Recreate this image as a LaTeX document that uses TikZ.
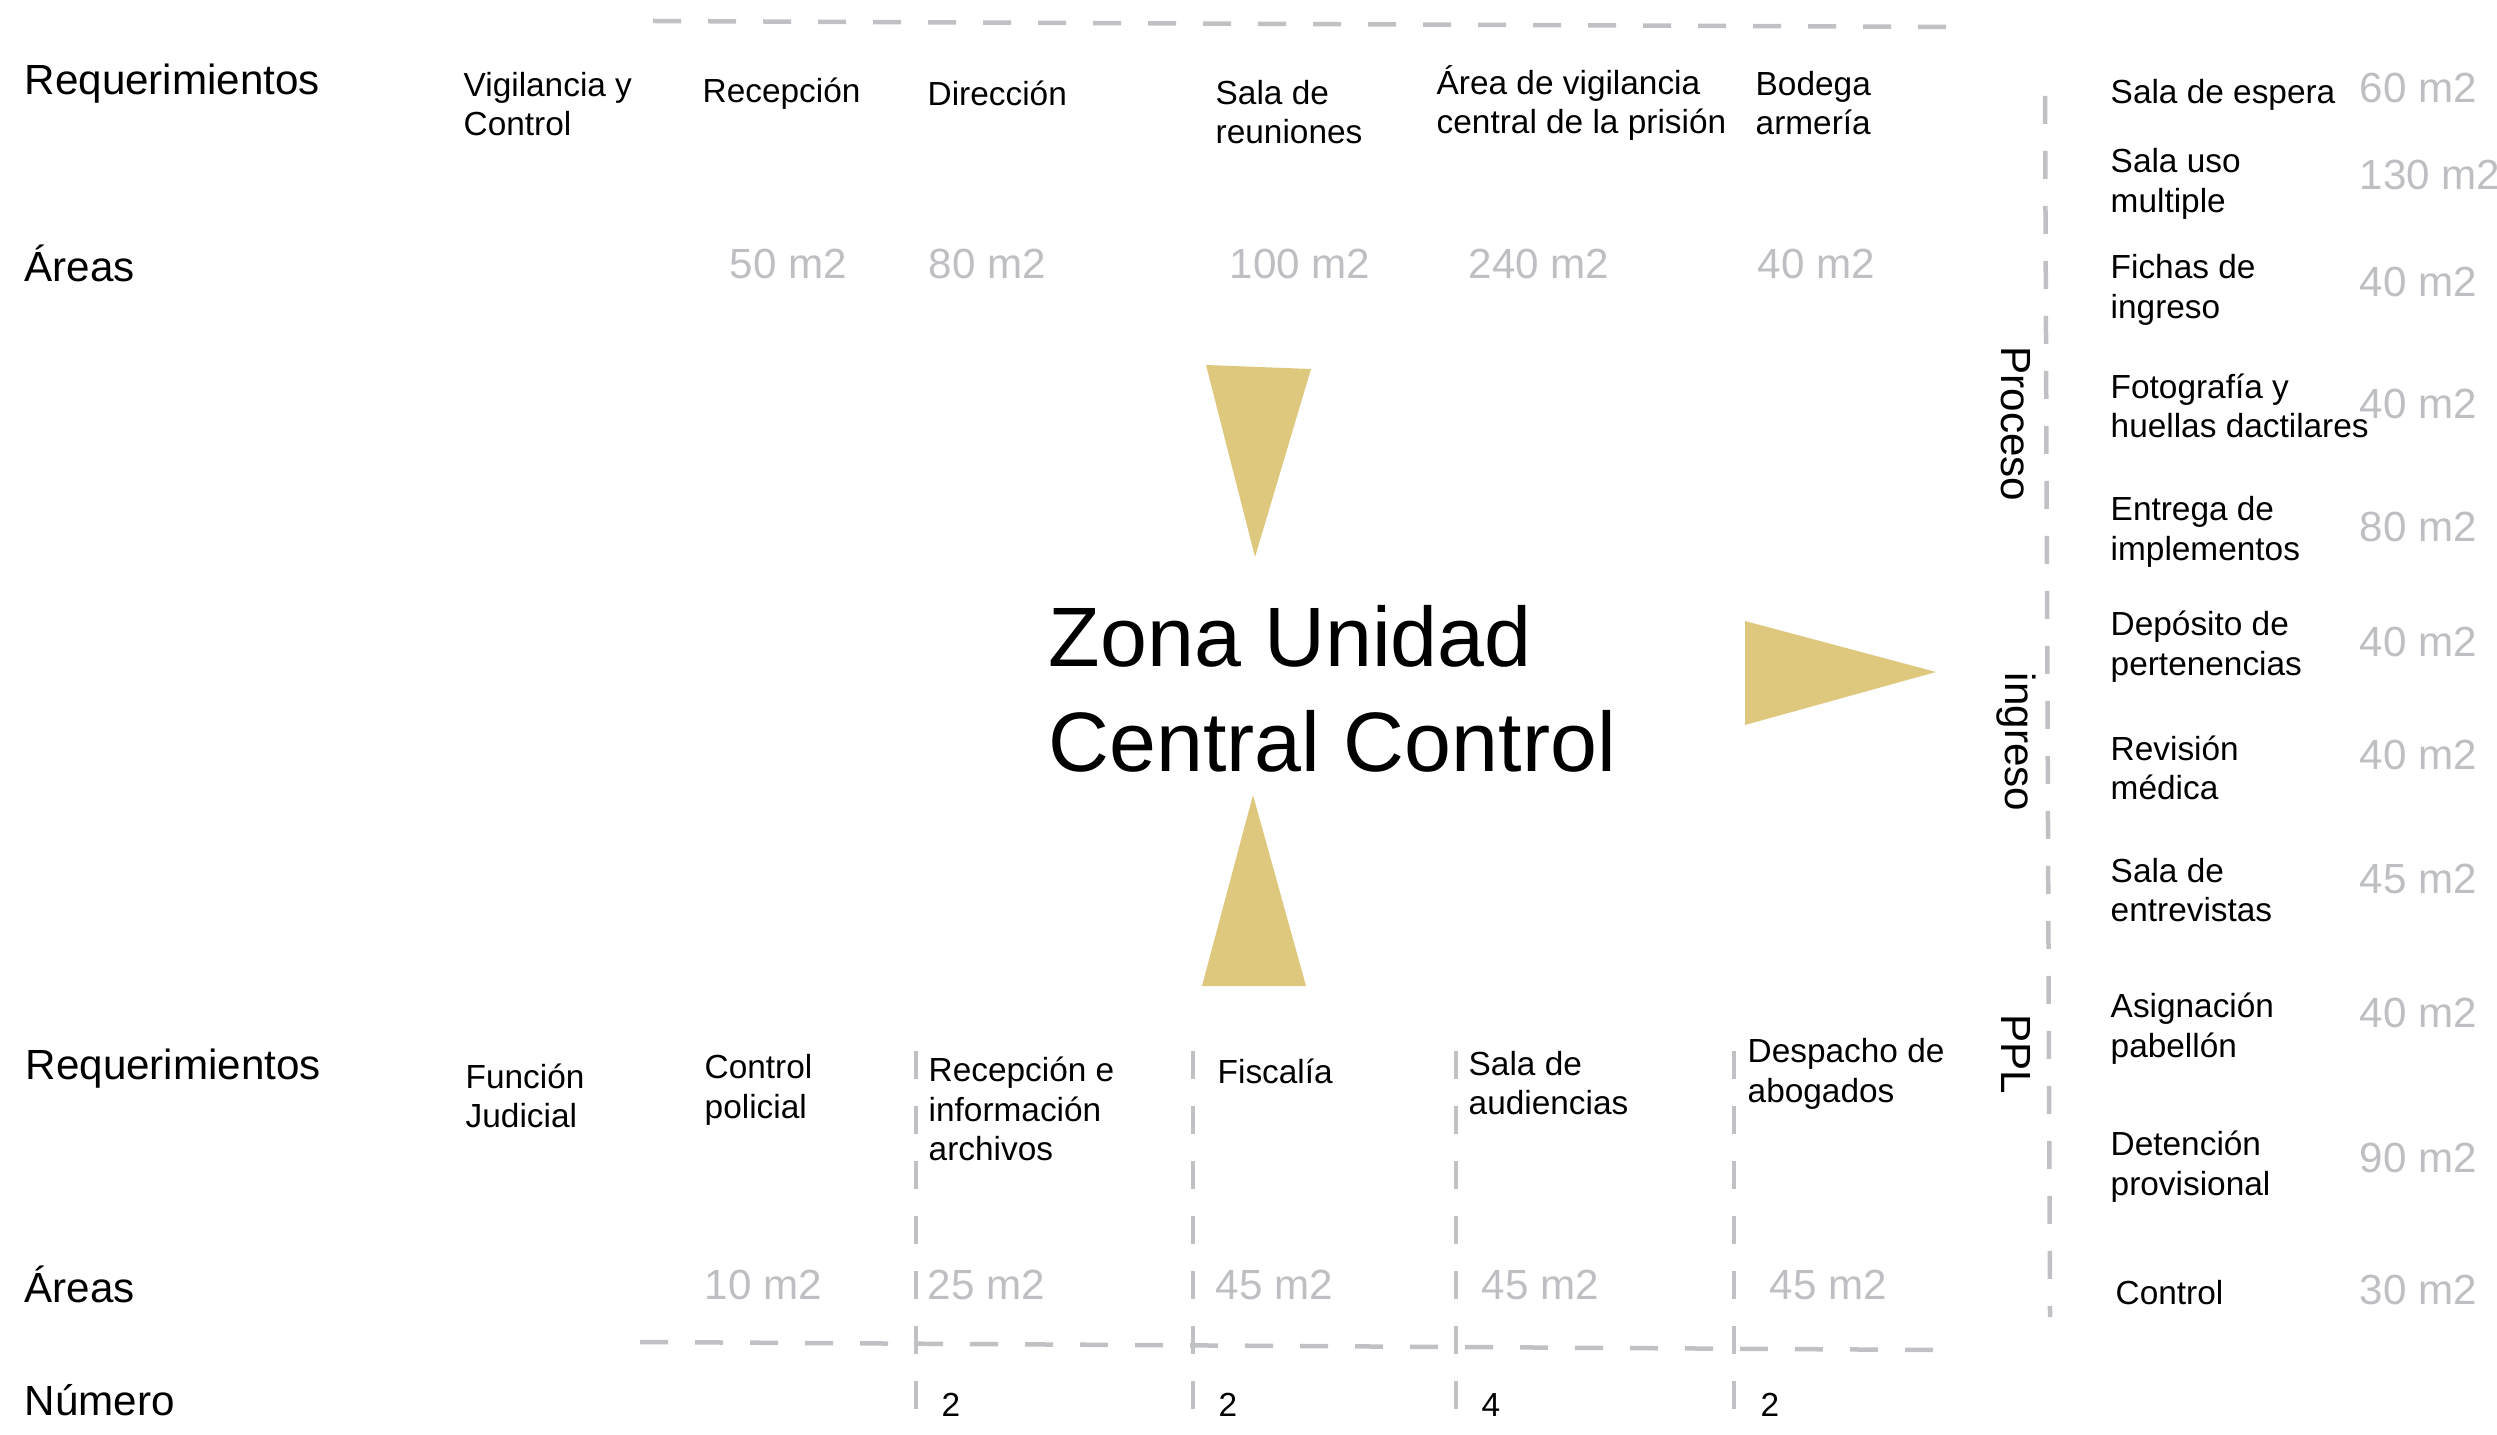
\documentclass[tikz,border=0pt]{standalone}
\usepackage{fontspec}
\setmainfont{Liberation Sans}
\usepackage{xcolor}
\usepackage{tikz}
\definecolor{gold}{RGB}{222,200,126}
\definecolor{softgray}{RGB}{189,191,194}
\definecolor{linegray}{RGB}{191,193,196}

\begin{document}
\begin{tikzpicture}[
  hdr/.style={anchor=west,inner sep=0pt,font=\fontsize{12}{14}\selectfont},
  lbl/.style={anchor=west,inner sep=0pt,align=left,font=\fontsize{9.5}{11.3}\selectfont},
  area/.style={anchor=west,inner sep=0pt,text=softgray,font=\fontsize{12}{14}\selectfont},
  side/.style={inner sep=0pt,rotate=-90,font=\fontsize{12}{14}\selectfont},
  sep/.style={draw=linegray,line width=0.45mm,dash pattern=on 2.8mm off 2.7mm},
  tri/.style={fill=gold}]
 \useasboundingbox (0,0) rectangle (24.97,14.34);
 % upper block
 \node[hdr] (req1) at (0.24,13.50) {Requerimientos};
 \node[hdr] (ar1) at (0.24,11.71) {Áreas};
 \node[lbl] (vig) at (4.63,13.30) {Vigilancia y\\Control};
 \node[lbl] (rec) at (7.02,13.40) {Recepción};
 \node[lbl] (dir) at (9.27,13.41) {Dirección};
 \node[lbl] (reu) at (12.15,13.22) {Sala de\\reuniones};
 \node[lbl] (vgc) at (14.36,13.31) {Área de vigilancia\\central de la prisión};
 \node[lbl] (bod) at (17.55,13.31) {Bodega\\armería};
 \node[area] (rec-a) at (7.29,11.70) {50 m2};
 \node[area] (dir-a) at (9.28,11.70) {80 m2};
 \node[area] (reu-a) at (12.29,11.70) {100 m2};
 \node[area] (vgc-a) at (14.68,11.70) {240 m2};
 \node[area] (bod-a) at (17.57,11.70) {40 m2};
 \coordinate (topL) at (6.53,14.13);
 \coordinate (topR) at (19.56,14.07);
 \draw[sep] (topL) -- (topR);
 % centre and markers
 \node[anchor=west,inner sep=0pt,align=left,font=\fontsize{24}{30}\selectfont] (zona) at (10.48,7.45) {Zona Unidad\\Central Control};
 \fill[tri] (12.06,10.69) -- (13.11,10.65) -- (12.55,8.77) -- cycle;
 \fill[tri] (12.53,6.39) -- (13.06,4.48) -- (12.02,4.48) -- cycle;
 \fill[tri] (17.45,8.13) -- (19.36,7.62) -- (17.45,7.09) -- cycle;
 % proceso de ingreso
 \coordinate (sideT) at (20.45,13.38);
 \coordinate (sideB) at (20.50,1.17);
 \draw[sep] (sideT) -- (sideB);
 \node[side] (pro) at (20.16,10.10) {Proceso};
 \node[side] (ing) at (20.16,6.92) {ingreso};
 \node[side] (ppl) at (20.16,3.80) {PPL};
 \node[lbl] (p1) at (21.10,13.39) {Sala de espera};
 \node[lbl] (p2) at (21.10,12.50) {Sala uso\\multiple};
 \node[lbl] (p3) at (21.10,11.44) {Fichas de\\ingreso};
 \node[lbl] (p4) at (21.10,10.28) {Fotografía y\\huellas dactilares};
 \node[lbl] (p5) at (21.10,9.02) {Entrega de\\implementos};
 \node[lbl] (p6) at (21.10,7.87) {Depósito de\\pertenencias};
 \node[lbl] (p7) at (21.10,6.66) {Revisión\\médica};
 \node[lbl] (p8) at (21.10,5.44) {Sala de\\entrevistas};
 \node[lbl] (p9) at (21.10,4.05) {Asignación\\pabellón};
 \node[lbl] (p10) at (21.10,2.67) {Detención\\provisional};
 \node[lbl] (p11) at (21.15,1.41) {Control};
 \node[area] (p1-a) at (23.59,13.46) {60 m2};
 \node[area] (p2-a) at (23.59,12.59) {130 m2};
 \node[area] (p3-a) at (23.59,11.52) {40 m2};
 \node[area] (p4-a) at (23.59,10.30) {40 m2};
 \node[area] (p5-a) at (23.59,9.07) {80 m2};
 \node[area] (p6-a) at (23.59,7.92) {40 m2};
 \node[area] (p7-a) at (23.59,6.79) {40 m2};
 \node[area] (p8-a) at (23.59,5.55) {45 m2};
 \node[area] (p9-a) at (23.59,4.21) {40 m2};
 \node[area] (p10-a) at (23.59,2.76) {90 m2};
 \node[area] (p11-a) at (23.59,1.44) {30 m2};
 % lower block
 \node[hdr] (req2) at (0.25,3.65) {Requerimientos};
 \node[hdr] (ar2) at (0.24,1.50) {Áreas};
 \node[hdr] (num) at (0.24,0.34) {Número};
 \node[lbl] (jud) at (4.65,3.38) {Función\\Judicial};
 \node[lbl] (pol) at (7.04,3.44) {Control\\policial};
 \node[lbl] (arc) at (9.28,3.25) {Recepción e\\información\\archivos};
 \node[lbl] (fis) at (12.17,3.63) {Fiscalía};
 \node[lbl] (aud) at (14.68,3.51) {Sala de\\audiencias};
 \node[lbl] (abo) at (17.47,3.60) {Despacho de\\abogados};
 \node[area] (pol-a) at (7.04,1.49) {10 m2};
 \node[area] (arc-a) at (9.27,1.49) {25 m2};
 \node[area] (fis-a) at (12.15,1.49) {45 m2};
 \node[area] (aud-a) at (14.81,1.49) {45 m2};
 \node[area] (abo-a) at (17.69,1.49) {45 m2};
 \node[lbl] (arc-n) at (9.41,0.29) {2};
 \node[lbl] (fis-n) at (12.18,0.29) {2};
 \node[lbl] (aud-n) at (14.81,0.29) {4};
 \node[lbl] (abo-n) at (17.60,0.29) {2};
 \coordinate (botL) at (6.40,0.92);
 \coordinate (botR) at (19.40,0.84);
 \draw[sep] (botL) -- (botR);
 \coordinate (v1) at (9.16,3.83);
 \coordinate (v2) at (11.93,3.83);
 \coordinate (v3) at (14.56,3.83);
 \coordinate (v4) at (17.34,3.83);
 \draw[sep] (v1) -- (9.16,-0.1);
 \draw[sep] (v2) -- (11.93,-0.1);
 \draw[sep] (v3) -- (14.56,-0.1);
 \draw[sep] (v4) -- (17.34,-0.1);
\end{tikzpicture}
\end{document}
